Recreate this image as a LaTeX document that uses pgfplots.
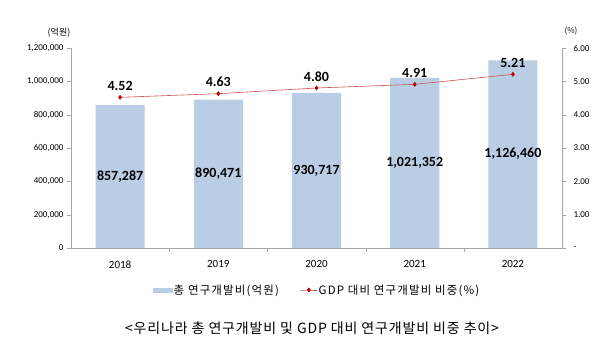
\documentclass[border=0pt]{standalone}
\usepackage{fontspec}
\setmainfont{Noto Sans CJK KR}
\newfontfamily\lblfont{Carlito}
\newfontfamily\krfont[LetterSpace=10]{Noto Sans CJK KR}
\newfontfamily\krtfont[LetterSpace=6]{Noto Sans CJK KR}
\usepackage{pgfplots}
\usepackage{pgfplotstable}
\pgfplotsset{compat=1.18}
\definecolor{barblue}{RGB}{185,205,229}
\definecolor{linered}{RGB}{205,80,80}
\definecolor{markred}{RGB}{192,0,0}
\definecolor{axgray}{RGB}{166,166,166}
\pgfplotstableread{
x val half lab
0 857287 428643 857,287
1 890471 445235 890,471
2 930717 465358 930,717
3 1021352 510676 1,021,352
4 1126460 563230 1,126,460
}\rdtable
\pgfplotstableread{
x pct
0 4.52
1 4.63
2 4.80
3 4.91
4 5.21
}\pcttable
\begin{document}
\begin{tikzpicture}[x=1pt,y=1pt]
\useasboundingbox (0,0) rectangle (602,353);
\begin{axis}[
  at={(71pt,105pt)}, anchor=south west,
  scale only axis, width=491pt, height=200pt,
  xmin=-0.5, xmax=4.5, ymin=0, ymax=1200000,
  axis x line*=bottom, axis y line*=left,
  axis line style={draw=axgray, line width=0.8pt},
  tick align=outside,
  xtick={0,1,2,3,4}, xticklabels={2018,2019,2020,2021,2022},
  major x tick style={draw=none},
  minor xtick={0.5,1.5,2.5,3.5},
  minor tick length=4pt,
  x tick style={draw=axgray},
  xticklabel style={font=\lblfont\fontsize{11}{12}\selectfont, yshift=-5pt},
  ytick={0,200000,400000,600000,800000,1000000,1200000},
  scaled y ticks=false,
  major tick length=4pt,
  y tick style={draw=axgray},
  yticklabel style={font=\lblfont\fontsize{9}{10}\selectfont, /pgf/number format/.cd, fixed, 1000 sep={,}, assume math mode=true},
  legend style={at={(0.5,-0.21)}, anchor=center, draw=none, legend columns=2,
    font=\krfont\fontsize{11.5}{12}\selectfont, column sep=0pt, inner sep=0pt,
    nodes={inner sep=1pt},
    /tikz/every even column/.append style={column sep=20pt}},
  legend cell align=left,
  clip=false,
]
\addplot[ybar, bar width=0.5, fill=barblue, draw=none,
  legend image code/.code={\fill[barblue] (0pt,-2.5pt) rectangle (20pt,2.5pt);}]
  table[x=x, y=val] {\rdtable};
\addlegendentry{총 연구개발비(억원)}
\addlegendimage{draw=linered, line width=0.6pt, mark=diamond*, mark size=2pt, mark options={fill=markred, draw=markred}}
\addlegendentry{GDP 대비 연구개발비 비중(\%)}
\addplot[draw=none, mark=none, forget plot, point meta=explicit symbolic,
  nodes near coords, nodes near coords align=center,
  every node near coord/.append style={anchor=center, font=\lblfont\bfseries\fontsize{14}{16}\selectfont}]
  table[x=x, y=half, meta=lab] {\rdtable};
\end{axis}
\begin{axis}[
  at={(71pt,105pt)}, anchor=south west,
  scale only axis, width=491pt, height=200pt,
  xmin=-0.5, xmax=4.5, ymin=0, ymax=6,
  axis x line=none, axis y line*=right,
  axis line style={draw=axgray, line width=0.8pt},
  tick align=outside, major tick length=4pt,
  y tick style={draw=axgray},
  ytick={0,1,2,3,4,5,6},
  yticklabels={-,1.00,2.00,3.00,4.00,5.00,6.00},
  yticklabel style={font=\lblfont\fontsize{9}{10}\selectfont, xshift=4pt},
  clip=false,
]
\addplot[draw=linered, line width=0.6pt, mark=diamond*, mark size=2pt,
  mark options={fill=markred, draw=markred},
  point meta=y, nodes near coords,
  every node near coord/.append style={anchor=south, yshift=3pt, color=black,
    font=\lblfont\bfseries\fontsize{14}{16}\selectfont,
    /pgf/number format/.cd, fixed, fixed zerofill, precision=2, assume math mode=true}]
  table[x=x, y=pct] {\pcttable};
\end{axis}
\node[font=\fontsize{9}{10}\selectfont, anchor=center] at (59,320) {(억원)};
\node[font=\fontsize{8}{9}\selectfont, anchor=center] at (571,322) {(\%)};
\node[font=\krtfont\fontsize{14}{15}\selectfont, anchor=center] at (312,25) {<우리나라 총 연구개발비 및 GDP 대비 연구개발비 비중 추이>};
\end{tikzpicture}
\end{document}
